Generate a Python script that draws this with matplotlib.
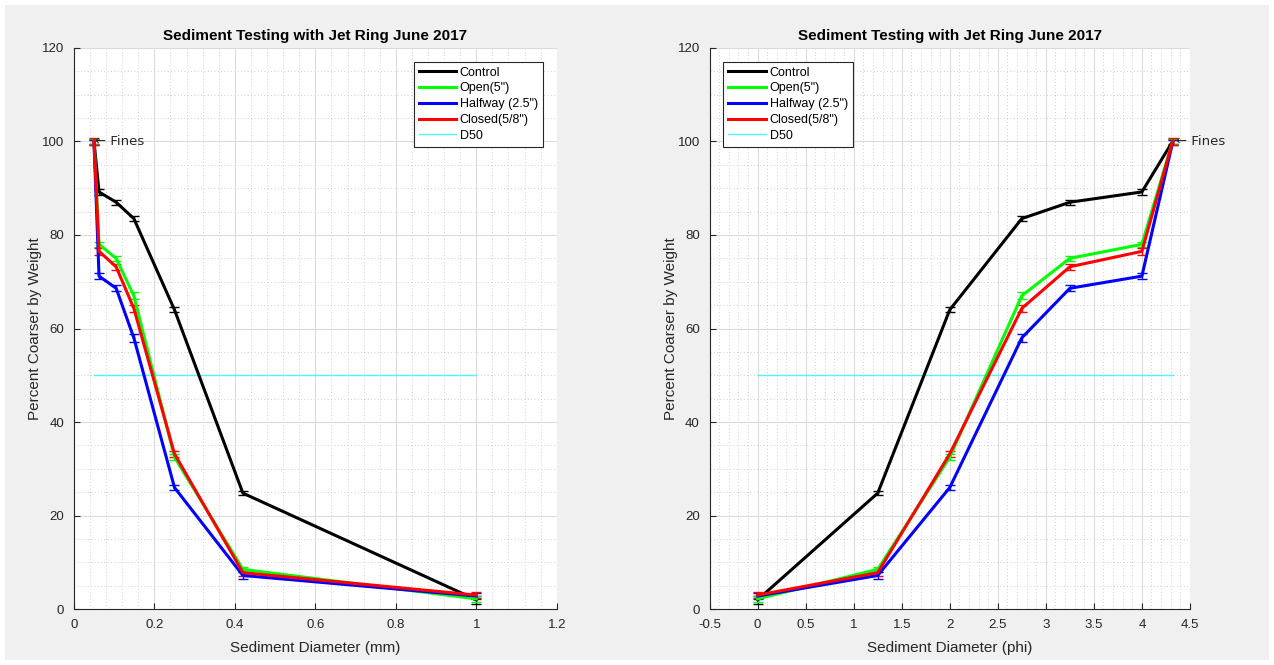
"""
Sediment grain size curves for the jet ring test, June 2017
"""

import numpy as np
import matplotlib
matplotlib.use('Agg')
import matplotlib.pyplot as plt
from matplotlib.ticker import MultipleLocator
from matplotlib.patches import Rectangle
from matplotlib.lines import Line2D

plt.rcParams['font.family'] = ['Liberation Sans', 'DejaVu Sans']

# sieve sizes
diam_mm = [1.0, 0.42, 0.25, 0.149, 0.105, 0.0625, 0.05]
phi = [0.0, 1.25, 2.0, 2.75, 3.25, 4.0, 4.32]

# percent coarser by weight
control = [2.0, 24.8, 64.0, 83.5, 87.0, 89.2, 100.0]
open5 = [2.2, 8.5, 32.5, 67.0, 75.0, 78.0, 100.0]
halfway = [2.8, 7.2, 26.0, 58.0, 68.6, 71.2, 99.8]
closed = [3.0, 7.8, 33.2, 64.3, 73.2, 76.5, 100.0]

control_err = [0.8, 0.5, 0.5, 0.5, 0.5, 0.6, 0.5]
open_err = [0.6, 0.6, 0.6, 0.7, 0.6, 0.6, 0.5]
halfway_err = [0.6, 0.7, 0.6, 0.8, 0.6, 0.6, 0.5]
closed_err = [0.7, 0.7, 0.7, 0.8, 0.6, 0.8, 0.7]

d50 = 50
series = [('Control', control, control_err, 'k'),
          ('Open(5")', open5, open_err, (0, 1, 0)),
          ('Halfway (2.5")', halfway, halfway_err, (0, 0, 1)),
          ('Closed(5/8")', closed, closed_err, (1, 0, 0))]

axcol = '0.15'
d50col = (0.3, 0.97, 0.97)


def draw_panel(ax, x, xlabel, d50x, legend_loc, fines_x):
    """Draw one grain size panel"""

    handles = []
    for label, y, err, color in series:
        ax.errorbar(x, y, yerr=err, color=color, linewidth=2.2, elinewidth=1.0,
                    capsize=3.5, capthick=1.0, zorder=3)
        handles.append(Line2D([], [], color=color, linewidth=2.2, label=label))
    ax.plot(d50x, [d50, d50], color=d50col, linewidth=1.0, zorder=3)
    handles.append(Line2D([], [], color=d50col, linewidth=1.0, label='D50'))

    ax.text(fines_x, 100, '\u2190 Fines', ha='left', va='center', fontsize=9.5, color=axcol,
            family=['DejaVu Sans'])

    ax.set_ylim(0, 120)
    ax.yaxis.set_major_locator(MultipleLocator(20))
    ax.yaxis.set_minor_locator(MultipleLocator(5))
    ax.grid(True, which='major', color='0.86', linewidth=0.8, linestyle='-')
    ax.grid(True, which='minor', color='0.75', linewidth=0.6, linestyle=(0, (1, 3)))
    ax.set_axisbelow(True)
    for side in ['top', 'right']:
        ax.spines[side].set_visible(False)
    for side in ['left', 'bottom']:
        ax.spines[side].set_color(axcol)
        ax.spines[side].set_linewidth(0.8)
    ax.tick_params(which='both', direction='in', colors=axcol, labelsize=9.5, length=4, pad=7)
    ax.tick_params(which='minor', length=0)
    ax.set_title('Sediment Testing with Jet Ring June 2017', fontsize=11, fontweight='bold', color='k')
    ax.set_xlabel(xlabel, fontsize=11, color=axcol, labelpad=7)
    ax.set_ylabel('Percent Coarser by Weight', fontsize=11, color=axcol, labelpad=0)

    leg = ax.legend(handles=handles, loc=legend_loc, fontsize=9, frameon=True, fancybox=False,
                    handlelength=3.0, handletextpad=0.3, borderpad=0.4, labelspacing=0.3,
                    borderaxespad=1.1)
    leg.get_frame().set_edgecolor(axcol)
    leg.get_frame().set_linewidth(0.8)
    leg.get_frame().set_alpha(1.0)


fig = plt.figure(figsize=(12.74, 6.65), dpi=100, facecolor='white')
fig.patches.append(Rectangle((0.004, 0.007), 0.992, 0.985, transform=fig.transFigure,
                             facecolor='#f0f0f0', edgecolor='none', zorder=-10))

ax1 = fig.add_axes([0.058, 0.084, 0.379, 0.844])
ax2 = fig.add_axes([0.557, 0.084, 0.377, 0.844])

draw_panel(ax1, diam_mm, 'Sediment Diameter (mm)', [0.05, 1.0], 'upper right', 0.053)
ax1.set_xlim(0, 1.2)
ax1.xaxis.set_minor_locator(MultipleLocator(0.04))
ax1.set_xticks([0, 0.2, 0.4, 0.6, 0.8, 1.0, 1.2])
ax1.set_xticklabels(['0', '0.2', '0.4', '0.6', '0.8', '1', '1.2'])

draw_panel(ax2, phi, 'Sediment Diameter (phi)', [0.0, 4.32], 'upper left', 4.36)
ax2.set_xlim(-0.5, 4.5)
ax2.xaxis.set_minor_locator(MultipleLocator(0.1))
ax2.set_xticks(np.arange(-0.5, 4.51, 0.5))
ax2.set_xticklabels(['-0.5', '0', '0.5', '1', '1.5', '2', '2.5', '3', '3.5', '4', '4.5'])

for ax in (ax1, ax2):
    ax.set_yticks([0, 20, 40, 60, 80, 100, 120])
    ax.set_yticklabels(['0', '20', '40', '60', '80', '100', '120'])

plt.savefig('out.png', dpi=100, facecolor=fig.get_facecolor())
